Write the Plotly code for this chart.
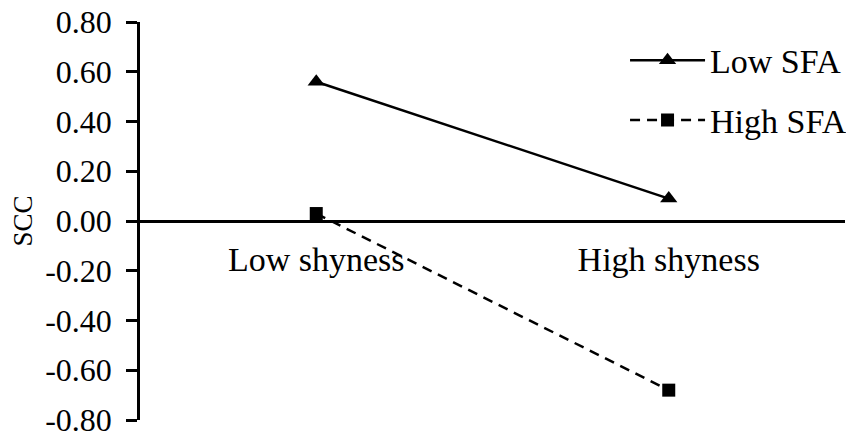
import plotly.graph_objects as go

categories = ["Low shyness", "High shyness"]
low_sfa = [0.56, 0.09]
high_sfa = [0.03, -0.68]
tick_vals = [0.8, 0.6, 0.4, 0.2, 0.0, -0.2, -0.4, -0.6, -0.8]
tick_text = ["0.80", "0.60", "0.40", "0.20", "0.00", "-0.20", "-0.40", "-0.60", "-0.80"]

FONT = "Liberation Serif"

fig = go.Figure()
fig.add_trace(go.Scatter(
    x=categories, y=low_sfa, name="Low SFA", mode="lines+markers",
    line=dict(color="black", width=2.5),
    marker=dict(symbol="triangle-up", size=15, color="black"),
    legend="legend",
))
fig.add_trace(go.Scatter(
    x=categories, y=high_sfa, name="High SFA", mode="lines+markers",
    line=dict(color="black", width=2.5, dash="10px,7px"),
    marker=dict(symbol="square", size=13, color="black"),
    legend="legend2",
))

legend_style = dict(
    font=dict(family=FONT, size=34, color="black"),
    bgcolor="rgba(0,0,0,0)", itemwidth=75,
    xanchor="left", yanchor="middle",
)

# page body adds an 8px offset, so the figure is 8px smaller than the window
fig.update_layout(
    width=846, height=434,
    margin=dict(l=132, r=2, t=14, b=22),
    showlegend=True,
    plot_bgcolor="white", paper_bgcolor="white",
    font=dict(family=FONT, size=34, color="black"),
    legend=dict(x=0.688, y=0.903, **legend_style),
    legend2=dict(x=0.688, y=0.753, **legend_style),
    xaxis=dict(
        type="category", range=[-0.5, 1.5],
        anchor="free", position=0.5,
        showline=True, linecolor="black", linewidth=2.5,
        ticks="", showgrid=False, zeroline=False, automargin=False,
        ticklabelstandoff=7,
        tickfont=dict(family=FONT, size=34),
    ),
    yaxis=dict(
        range=[-0.8, 0.8], tickvals=tick_vals, ticktext=tick_text,
        showline=True, linecolor="black", linewidth=2.5,
        ticks="outside", ticklen=11, tickwidth=2.5, tickcolor="black",
        ticklabelstandoff=8, automargin=False, ticklabeloverflow="allow",
        showgrid=False, zeroline=False,
        tickfont=dict(family=FONT, size=32),
        title=dict(text="SCC", font=dict(family=FONT, size=27), standoff=18),
    ),
)

fig.write_html("out.html")
